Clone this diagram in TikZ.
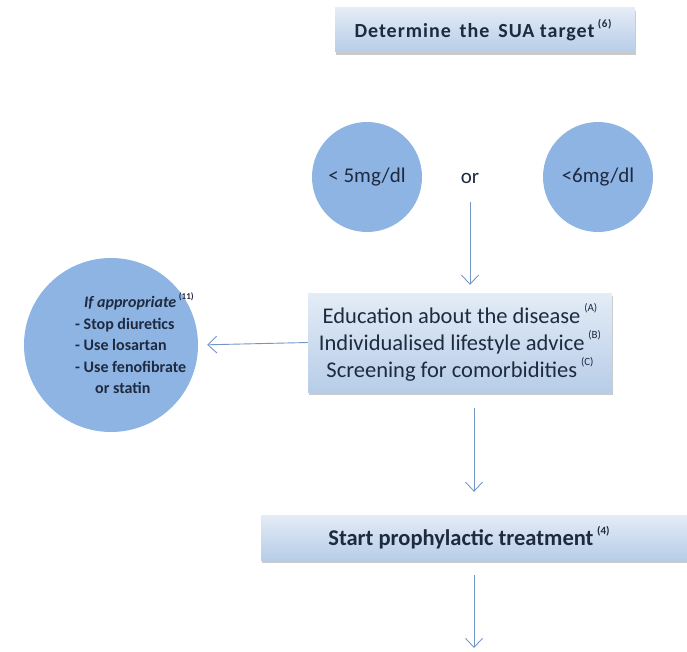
\documentclass[tikz,border=0pt]{standalone}
\usepackage{fontspec}
\setmainfont{Carlito}
\usetikzlibrary{arrows.meta,shadows}
\definecolor{circfill}{HTML}{8EB4E3}
\definecolor{boxtop}{HTML}{E4ECF6}
\definecolor{boxbot}{HTML}{B7CDE8}
\definecolor{txt}{HTML}{1E2A3F}
\definecolor{arrcol}{HTML}{7396C8}
\tikzset{
  boxnode/.style={rectangle, draw=none, top color=boxtop, bottom color=boxbot,
    drop shadow={shadow xshift=1pt, shadow yshift=-3pt, opacity=0.35, fill=black!60},
    text=txt, align=center, inner sep=0pt},
  circnode/.style={circle, fill=circfill, draw=none, text=txt, align=center, inner sep=0pt},
  arr/.style={draw=arrcol, line width=0.9pt, -{Straight Barb[length=9pt,width=17pt,line width=0.9pt]}},
}
\newcommand{\supr}[1]{\raisebox{0.5em}{\fontsize{11}{11}\selectfont(#1)}}
\begin{document}
\begin{tikzpicture}[x=1pt,y=-1pt]
\useasboundingbox (0,0) rectangle (687,652);
\node[boxnode, minimum width=300pt, minimum height=44pt, font=\fontsize{20}{22}\selectfont\bfseries] (top) at (485,30)
  {\hspace*{-4pt}\addfontfeature{LetterSpace=5}Determine\, the\, SUA target\,\supr{6}};
\node[circnode, minimum size=110pt, font=\fontsize{21}{24}\selectfont] (c1) at (367,177) {< 5mg/dl};
\node[circnode, minimum size=110pt, font=\fontsize{21}{24}\selectfont] (c2) at (598,177) {<6mg/dl};
\node[text=txt, font=\fontsize{21}{24}\selectfont] (or) at (470,178) {or};
\node[boxnode, minimum width=304pt, minimum height=99pt, font=\fontsize{22.5}{27}\selectfont] (mid) at (460,342.5)
  {Education about the disease\,\supr{A}\\
   Individualised lifestyle advice\,\supr{B}\\
   Screening for comorbidities\,\supr{C}};
\node[circnode, minimum size=174pt] (lc) at (111,345) {};
\node[text=txt, align=left, anchor=north west, inner sep=0pt, font=\fontsize{16}{21.5}\selectfont\bfseries] (lt) at (75,293)
  {\hspace*{9pt}\textit{If appropriate}\,\raisebox{0.5em}{\fontsize{9}{9}\selectfont(11)}\\
   - Stop diuretics\\
   - Use losartan\\
   - Use fenofibrate\\
   \hspace*{20pt}or statin};
\node[boxnode, minimum width=426pt, minimum height=45pt, font=\fontsize{22.5}{24}\selectfont\bfseries] (bot) at (474,537.5)
  {\hspace*{-10pt}Start prophylactic treatment\,\supr{4}};
\coordinate (end) at (474,648);
\draw[arr, shorten <=24pt, shorten >=8pt] (or.center) -- (or.center |- mid.north);
\draw[arr, shorten >=9pt] (mid.west) -- (lc.east);
\draw[arr, shorten <=16pt, shorten >=23pt] (bot.north |- mid.south) -- (bot.north);
\draw[arr, shorten <=15pt] (bot.south) -- (end);
\end{tikzpicture}
\end{document}
